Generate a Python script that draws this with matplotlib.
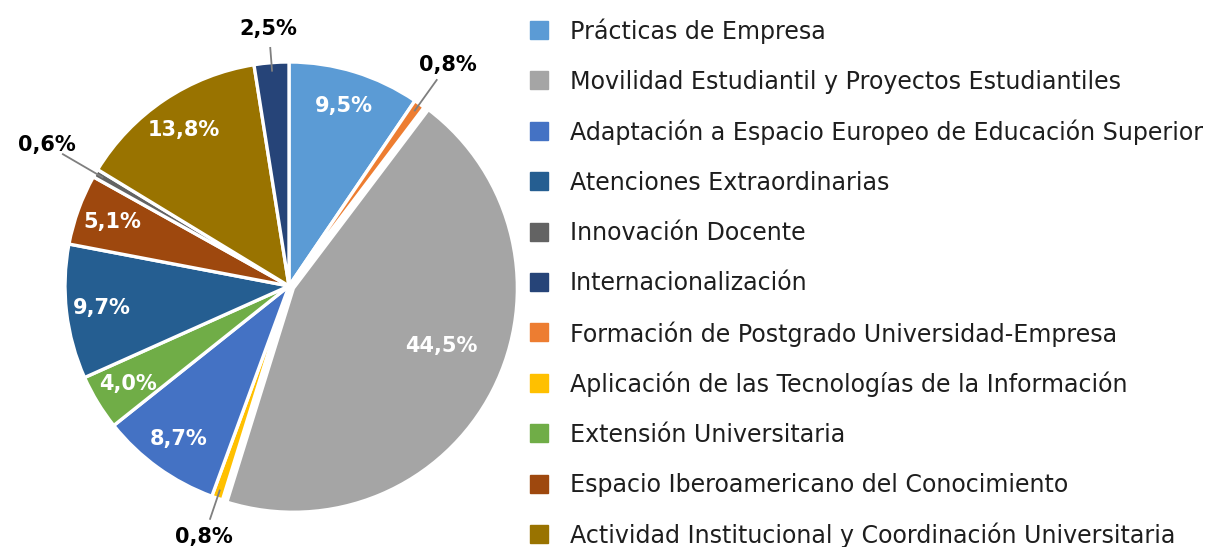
import matplotlib
matplotlib.use("Agg")
import matplotlib.pyplot as plt
from matplotlib.patches import Rectangle
import numpy as np

# Pie order (clockwise from 12 o'clock)
categories = [
    "Prácticas de Empresa",
    "Formación de Postgrado Universidad-Empresa",
    "Movilidad Estudiantil y Proyectos Estudiantiles",
    "Aplicación de las Tecnologías de la Información",
    "Adaptación a Espacio Europeo de Educación Superior",
    "Extensión Universitaria",
    "Atenciones Extraordinarias",
    "Espacio Iberoamericano del Conocimiento",
    "Innovación Docente",
    "Actividad Institucional y Coordinación Universitaria",
    "Internacionalización",
]
values = [9.5, 0.8, 44.5, 0.8, 8.7, 4.0, 9.7, 5.1, 0.6, 13.8, 2.5]
colors = ["#5B9BD5", "#ED7D31", "#A5A5A5", "#FFC000", "#4472C4", "#70AD47",
          "#255E91", "#9E480E", "#636363", "#997300", "#264478"]

legend_order = [
    "Prácticas de Empresa",
    "Movilidad Estudiantil y Proyectos Estudiantiles",
    "Adaptación a Espacio Europeo de Educación Superior",
    "Atenciones Extraordinarias",
    "Innovación Docente",
    "Internacionalización",
    "Formación de Postgrado Universidad-Empresa",
    "Aplicación de las Tecnologías de la Información",
    "Extensión Universitaria",
    "Espacio Iberoamericano del Conocimiento",
    "Actividad Institucional y Coordinación Universitaria",
]

W, H = 1211, 547
fig = plt.figure(figsize=(W / 100, H / 100), dpi=100)

cx, cy, R = 289, 286, 224
axw = 540
ax = fig.add_axes([0, 0, axw / W, 1])

explode = [0.022 if v > 40 else 0.0 for v in values]
wedges, _ = ax.pie(values, colors=colors, startangle=90, counterclock=False,
                   radius=1.0, explode=explode,
                   wedgeprops=dict(edgecolor="white", linewidth=2.4))
ax.set_xlim(-cx / R, (axw - cx) / R)
ax.set_ylim(-(H - cy) / R, cy / R)
ax.set_aspect("auto")
ax.axis("off")

for w, v, ex in zip(wedges, values, explode):
    ang = (w.theta1 + w.theta2) / 2
    mid = np.deg2rad(ang)
    ux, uy = np.cos(mid), np.sin(mid)
    ox, oy = ex * ux, ex * uy
    txt = f"{v:.1f}%".replace(".", ",")
    if v < 3:
        dl = 1.14 + 0.13 * abs(ux)
        ax.plot([ox + 0.96 * ux, ox + (dl - 0.08) * ux],
                [oy + 0.96 * uy, oy + (dl - 0.08) * uy],
                color="#7F7F7F", lw=1.3, solid_capstyle="butt")
        ax.text(ox + dl * ux, oy + dl * uy, txt, ha="center", va="center",
                fontsize=15, fontweight="bold", color="black")
    else:
        if v > 40:
            # large slice: label sits a little above the bisector
            mid2 = np.deg2rad(ang + 6)
            ux, uy = np.cos(mid2), np.sin(mid2)
            d = 0.71
        else:
            d = 0.84
        ax.text(ox + d * ux, oy + d * uy, txt, ha="center", va="center",
                fontsize=15, fontweight="bold", color="white")

# Legend
color_of = dict(zip(categories, colors))
y0, dy = 30, 50.4
for i, name in enumerate(legend_order):
    yc = y0 + i * dy
    fig.patches.append(Rectangle((530 / W, 1 - (yc + 9) / H), 18 / W, 18 / H,
                                 transform=fig.transFigure, color=color_of[name],
                                 figure=fig))
    fig.text(570 / W, 1 - (yc - 1) / H, name, ha="left", va="center_baseline",
             fontsize=17.1, color="#1E1E1E")

fig.savefig("out.png", dpi=100)
